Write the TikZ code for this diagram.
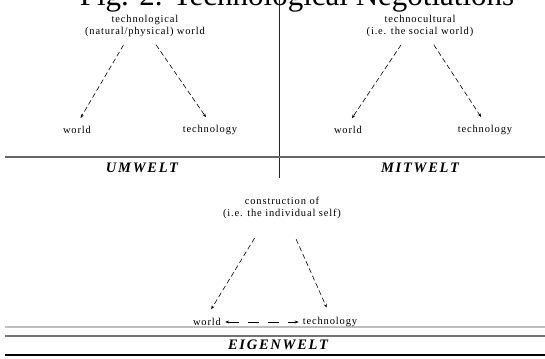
\documentclass[tikz,border=0pt]{standalone}
\usepackage{fontspec}
\setmainfont{Liberation Serif}
\newfontfamily\labfont[LetterSpace=8]{Liberation Serif}
\newfontfamily\realmfont[LetterSpace=12]{Liberation Serif}
\usetikzlibrary{arrows.meta}

\begin{document}
\begin{tikzpicture}[x=1pt, y=-1pt,
  lab/.style={font=\labfont\fontsize{10.5}{12}\selectfont, inner sep=2pt, align=center},
  realm/.style={font=\realmfont\bfseries\itshape\fontsize{14.5}{16}\selectfont, inner sep=1pt},
  flow/.style={dash pattern=on 5pt off 3pt, line width=0.6pt, -{Stealth[length=4pt, width=3pt]}},
  rule/.style={draw=#1, line width=1.2pt}]
\useasboundingbox (0,0) rectangle (545,358);

% ---- title (cut at the top edge)
\node[font=\fontsize{31}{33}\selectfont, anchor=base] (title) at (297,6) {Fig. 2. Technological Negotiations};

% ---- frame lines
\draw[rule=black!85, line width=1pt] (279,0) -- (279,178);
\draw[rule=black!60] (5,157) -- (545,157);
\draw[rule=black!25, line width=1.5pt] (5,327) -- (545,327);
\draw[rule=black!55] (5,336) -- (545,336);
\draw[rule=black, line width=1.5pt] (5,355) -- (545,355);

% ---- umwelt (top left)
\node[lab] (umTop) at (145,26) {technological\\(natural/physical) world};
\node[lab] (umWorld) at (77,130) {world};
\node[lab] (umTech) at (210,130) {technology};
\node[realm] (umName) at (142,168) {UMWELT};
\draw[flow, shorten <=7pt, shorten >=7pt] ([xshift=-18pt]umTop.south) -- (umWorld.north);
\draw[flow, shorten <=7pt, shorten >=7pt] ([xshift=7pt]umTop.south) -- (umTech.north);

% ---- mitwelt (top right)
\node[lab] (miTop) at (420,26) {technocultural\\(i.e. the social world)};
\node[lab] (miWorld) at (348,130) {world};
\node[lab] (miTech) at (485,130) {technology};
\node[realm] (miName) at (420,168) {MITWELT};
\draw[flow, shorten <=7pt, shorten >=7pt] ([xshift=-15pt]miTop.south) -- (miWorld.north);
\draw[flow, shorten <=7pt, shorten >=7pt] ([xshift=10pt]miTop.south) -- (miTech.north);

% ---- eigenwelt (bottom)
\node[lab] (eiTop) at (282,208) {construction of\\(i.e. the individual self)};
\node[lab] (eiWorld) at (207,322) {world};
\node[lab] (eiTech) at (330,322) {technology};
\node[realm] (eiName) at (278,345) {EIGENWELT};
\draw[flow, shorten <=20pt, shorten >=8pt] ([xshift=-17pt]eiTop.south) -- (eiWorld.north);
\draw[flow, shorten <=20pt, shorten >=8pt] ([xshift=6pt]eiTop.south) -- (eiTech.north);
\draw[flow, {Stealth[length=4pt, width=3pt]}-{Stealth[length=4pt, width=3pt]}, dash pattern=on 11pt off 9pt, shorten <=2pt, shorten >=2pt] (eiWorld.east) -- (eiTech.west);
\end{tikzpicture}
\end{document}
